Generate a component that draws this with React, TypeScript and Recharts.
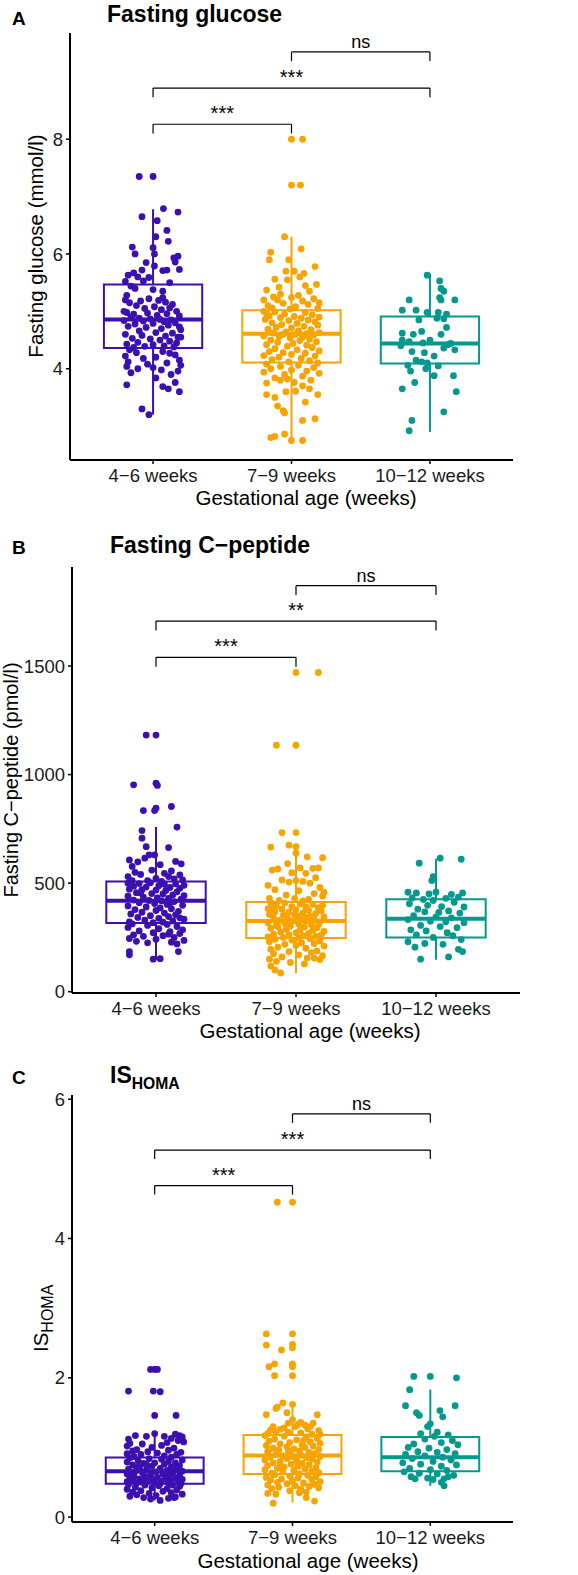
import React from 'react';
import { ComposedChart, Scatter, XAxis, YAxis, ReferenceArea, ReferenceLine } from 'recharts';

const FONT = '"Liberation Sans", Arial, Helvetica, sans-serif';

const groups = ['4−6 weeks', '7−9 weeks', '10−12 weeks'];
const colors = ['#3C0FB0', '#F7A400', '#04988F'];

type Pt = [number, number]; // [jitter, value]
type Box = [number, number, number, number, number]; // lo, q1, median, q3, hi
type Sig = { from: number; to: number; y: number; label: string };

// ---------- A: fasting glucose (mmol/l)
const glucose46: Pt[] = [
  [-0.1,7.35],[0.0,7.35],
  [0.075,6.79],[0.18,6.73],[-0.08,6.65],[0.03,6.58],[0.1,6.41],[0.11,6.22],[-0.15,6.12],[0.0,6.11],[-0.13,6.0],[0.01,6.0],[0.15,5.93],[0.18,5.96],[0.16,5.86],[0.19,5.73],[0.01,5.79],[0.1,5.72],[0.07,5.71],[-0.08,5.72],[-0.14,5.67],[-0.18,5.63],[-0.03,5.59],[-0.07,5.53],[-0.16,5.44],[-0.13,5.4],[0.0,5.38],[0.07,5.35],[-0.19,5.28],[0.07,5.24],[-0.11,5.6],[0.12,5.5],[-0.2,5.52],[0.02,6.3],[-0.05,5.85],
  [-0.2,5.2],[-0.17,5.15],[-0.09,5.18],[-0.03,5.22],[0.04,5.19],[0.09,5.16],[0.14,5.12],[-0.12,5.1],[-0.06,5.05],[0.01,5.08],[0.06,5.03],[0.12,5.06],[0.17,5.0],[-0.19,4.98],[-0.14,4.95],[-0.04,4.97],[0.03,4.93],[0.1,4.96],[0.19,4.92],[-0.16,4.9],[-0.1,4.88],[-0.02,4.87],[0.05,4.86],[0.13,4.85],[-0.21,4.84],[-0.07,4.83],[0.08,4.82],[0.16,4.8],[-0.13,4.78],[0.0,4.79],[0.11,4.76],[-0.18,4.74],[-0.05,4.72],[0.06,4.7],[0.2,4.68],[-0.1,4.66],[0.02,4.63],[0.14,4.62],[-0.2,4.6],[-0.08,4.58],[0.09,4.57],[0.18,4.55],[-0.15,4.53],[-0.02,4.52],[0.05,4.5],[0.12,4.48],[-0.11,4.46],[0.17,4.45],[-0.19,4.43],[0.0,4.42],[0.08,4.4],[-0.06,4.39],[0.15,4.38],[-0.14,4.37],[0.2,4.55],[0.19,4.73],[-0.21,5.0],
  [-0.17,4.33],[0.07,4.3],[-0.12,4.28],[0.12,4.27],[0.16,4.24],[-0.2,4.22],[0.02,4.2],[-0.07,4.18],[0.19,4.15],[-0.18,4.12],[0.1,4.1],[-0.04,4.08],[0.2,4.06],[-0.19,4.04],[0.0,4.02],[-0.11,4.0],[0.06,3.98],[0.18,3.96],[-0.16,3.93],[0.13,3.9],[0.02,3.84],[-0.19,3.72],[0.16,3.76],[0.07,3.69],[0.11,3.65],[0.19,3.6],[-0.08,3.3],[-0.03,3.2],
];
const glucose79: Pt[] = [
  [0.0,8.0],[0.08,8.0],[0.0,7.2],[0.065,7.2],
  [-0.05,6.3],[0.07,6.09],[-0.15,6.03],[-0.16,5.9],[-0.02,5.9],[0.17,5.78],[-0.04,5.7],[0.02,5.7],[0.09,5.66],[-0.12,5.56],[-0.03,5.55],[0.18,5.47],[0.1,5.45],[-0.18,5.37],[0.13,5.35],[-0.08,5.3],[0.05,5.28],[-0.13,5.25],[0.0,5.24],[0.16,5.22],[-0.2,5.2],[-0.1,5.2],[0.08,5.18],[0.2,5.15],[-0.06,5.14],[0.12,5.12],[-0.17,5.1],[0.03,5.08],[-0.14,5.06],[0.19,5.05],[-0.01,5.04],[0.06,5.6],[-0.09,5.42],
  [-0.2,5.0],[-0.12,4.99],[0.1,4.98],[-0.18,4.96],[-0.05,4.95],[0.15,4.94],[-0.16,4.92],[0.02,4.91],[0.2,4.9],[-0.08,4.89],[0.07,4.88],[-0.19,4.86],[0.12,4.85],[-0.02,4.84],[0.17,4.82],[-0.14,4.8],[0.04,4.79],[-0.07,4.77],[0.19,4.76],[0.09,4.74],[-0.11,4.72],[0.0,4.71],[-0.17,4.69],[0.14,4.68],[0.05,4.66],[-0.04,4.64],[0.2,4.63],[-0.13,4.62],[0.11,4.61],[-0.06,4.6],[0.03,4.6],[0.16,4.59],[-0.2,4.57],[-0.09,4.56],[0.08,4.55],[-0.01,4.54],[0.13,4.52],[-0.15,4.5],[0.06,4.49],[0.18,4.47],[-0.1,4.46],[0.01,4.44],[-0.18,4.42],[0.11,4.41],[-0.03,4.39],[0.15,4.37],[-0.12,4.35],[0.04,4.33],[0.2,4.31],[-0.16,4.3],[-0.06,4.28],[0.1,4.27],[0.0,4.25],[-0.2,4.23],[0.17,4.22],[-0.09,4.2],[0.07,4.18],[-0.14,4.16],[0.13,4.14],[-0.02,4.12],
  [0.19,4.1],[-0.18,4.08],[0.05,4.06],[-0.08,4.04],[0.16,4.02],[-0.15,4.0],[0.0,3.98],[0.11,3.96],[-0.2,3.94],[0.2,3.92],[-0.05,3.9],[0.08,3.87],[-0.12,3.84],[-0.03,3.82],[0.14,3.8],[-0.18,3.75],[-0.08,3.8],[0.02,3.76],[0.08,3.7],[-0.18,3.55],[-0.12,3.5],[-0.04,3.6],[0.03,3.61],[0.1,3.42],[0.19,3.55],[-0.06,3.27],[-0.05,3.23],[0.08,3.1],[0.17,3.13],[-0.15,2.8],[-0.12,2.82],[-0.05,2.86],[0.0,2.75],[0.08,2.75],[-0.1,3.35],[0.13,3.65],
];
const glucose1012: Pt[] = [
  [-0.02,5.63],[0.07,5.53],[0.08,5.4],[0.1,5.35],[0.07,5.24],[0.08,5.2],[0.18,5.2],[-0.15,5.2],[-0.2,5.02],[-0.1,5.02],[-0.02,4.98],[0.06,4.98],[0.12,4.95],[0.05,4.88],[0.1,4.87],[0.12,4.72],[-0.2,4.62],[-0.12,4.6],[-0.06,4.65],[-0.2,4.5],[-0.15,4.47],[0.0,4.5],[0.13,4.42],[-0.21,4.4],[-0.05,4.45],[0.15,4.44],[-0.13,4.3],[-0.04,4.28],[0.03,4.22],[0.18,4.33],[0.1,4.36],[-0.1,4.15],[-0.06,4.12],[-0.16,4.06],[-0.02,4.1],[0.06,4.05],[-0.14,3.96],[-0.03,4.0],[0.03,3.88],[0.17,3.88],[-0.11,3.76],[-0.2,3.65],[0.19,3.6],[0.1,3.25],[-0.13,3.1],[-0.15,2.92],[0.08,4.6],[-0.08,4.85],
];
const glucoseBox: Box[] = [[3.2, 4.36, 4.86, 5.47, 6.78], [2.75, 4.11, 4.61, 5.02, 6.3], [2.9, 4.09, 4.44, 4.91, 5.66]];
const glucoseSig: Sig[] = [
  { from: 1, to: 2, y: 8.26, label: '***' },
  { from: 1, to: 3, y: 8.89, label: '***' },
  { from: 2, to: 3, y: 9.52, label: 'ns' },
];

// ---------- B: fasting C-peptide (pmol/l)
const cpep46: Pt[] = [
  [-0.07,1182],[0.0,1182],[-0.16,953],[0.0,960],[0.01,950],[0.11,853],[-0.09,834],[0.0,845],[-0.01,834],
  [0.15,758],[-0.1,742],[-0.1,707],[-0.07,668],[0.09,664],[-0.19,607],[-0.17,577],[-0.05,630],[-0.01,630],[-0.08,615],[0.14,600],[0.18,589],[0.17,538],[-0.13,598],[0.03,585],[-0.03,560],[0.06,545],[-0.15,550],[0.11,556],[-0.2,530],[0.0,522],[0.09,530],[-0.11,540],[0.19,515],[-0.06,512],[0.04,508],[0.13,520],[-0.17,512],
  [-0.2,500],[-0.12,498],[-0.04,502],[0.06,495],[0.14,497],[0.2,490],[-0.16,486],[-0.07,482],[0.02,488],[0.1,480],[0.17,476],[-0.19,472],[-0.1,470],[0.0,468],[0.07,466],[0.15,460],[-0.14,456],[-0.03,452],[0.05,450],[0.12,446],[0.2,442],[-0.2,440],[-0.09,436],[0.01,432],[0.09,430],[0.18,426],[-0.16,422],[-0.05,420],[0.04,418],[0.13,415],[-0.12,410],[-0.01,406],[0.08,402],[0.19,398],[-0.2,395],[-0.07,390],[0.03,386],[0.11,382],[-0.15,378],[0.0,374],[0.16,370],[-0.1,366],[0.06,362],[-0.18,358],[0.14,354],[-0.04,350],[0.09,346],[-0.13,342],[0.02,338],[0.2,334],[-0.08,330],[0.12,326],[-0.19,322],[0.05,320],[-0.02,318],[0.17,340],[-0.11,455],[0.1,410],
  [-0.17,312],[0.08,310],[-0.06,305],[0.15,300],[-0.2,296],[0.02,290],[0.19,285],[-0.12,280],[0.1,276],[-0.02,272],[0.17,268],[-0.16,262],[0.05,258],[-0.09,255],[0.13,250],[-0.19,245],[0.0,242],[0.2,236],[0.11,228],[-0.06,225],[0.15,220],[0.16,185],[-0.19,185],[-0.19,170],[-0.02,150],[0.03,152],[0.09,265],[-0.14,232],
];
const cpep79: Pt[] = [
  [0.0,1470],[0.16,1470],[-0.14,1135],[0.0,1135],[-0.1,733],[0.0,733],[-0.18,666],[-0.05,675],[0.0,668],
  [0.08,621],[0.19,617],[0.0,638],[-0.13,565],[-0.06,590],[0.03,570],[0.12,568],[0.16,570],[-0.17,560],[-0.03,548],[0.07,545],[-0.1,515],[-0.05,505],[0.0,512],[0.05,508],[0.14,525],[-0.2,490],[0.1,500],[0.17,480],[-0.15,470],[0.02,465],[0.13,452],[-0.07,445],[0.19,440],[-0.19,430],[-0.01,428],[0.09,425],[-0.12,420],[0.05,418],[0.2,458],
  [-0.18,410],[-0.08,408],[0.03,405],[0.12,402],[0.19,398],[-0.14,395],[-0.03,392],[0.07,390],[0.16,386],[-0.2,383],[-0.1,380],[0.0,378],[0.09,375],[0.18,372],[-0.15,368],[-0.05,366],[0.05,363],[0.14,360],[-0.19,356],[-0.09,352],[0.01,350],[0.1,347],[0.2,344],[-0.16,340],[-0.06,337],[0.04,334],[0.13,332],[-0.12,328],[-0.02,326],[0.07,324],[0.17,322],[-0.2,318],[-0.08,315],[0.02,312],[0.11,308],[-0.14,305],[-0.04,302],[0.06,298],[0.15,295],[-0.18,292],[-0.07,288],[0.03,285],[0.12,282],[0.2,278],[-0.11,275],[0.0,272],[0.09,268],[-0.16,265],[-0.05,262],[0.05,258],[0.14,255],[-0.2,252],[-0.09,250],[0.02,248],[0.18,262],[-0.13,300],[0.08,340],[-0.01,355],[0.16,310],[-0.17,380],
  [0.1,245],[-0.15,242],[-0.03,238],[0.17,234],[-0.19,230],[0.04,226],[0.13,222],[-0.08,218],[0.0,214],[0.2,210],[-0.13,205],[0.07,200],[-0.18,195],[0.15,188],[-0.05,185],[0.11,180],[-0.16,175],[0.02,170],[0.19,166],[-0.1,160],[0.08,155],[-0.19,150],[0.17,148],[-0.14,140],[-0.04,135],[0.06,128],[-0.18,118],[-0.15,100],[-0.11,86],[0.13,155],
];
const cpep1012: Pt[] = [
  [-0.12,592],[0.03,615],[0.18,610],[-0.02,530],[-0.03,512],[-0.2,458],[-0.14,455],[-0.05,450],[0.0,458],[0.19,455],[0.11,448],[-0.17,432],[-0.09,425],[0.07,430],[0.16,436],[-0.02,420],[0.13,412],[-0.19,405],[-0.06,398],[0.04,392],[0.2,390],[-0.13,380],[0.09,372],[-0.08,368],[0.02,365],[0.17,362],[-0.16,350],[0.0,345],[0.11,340],[-0.2,332],[-0.04,325],[0.07,322],[0.2,318],[-0.11,305],[0.03,300],[0.15,295],[-0.18,285],[-0.07,280],[0.08,272],[-0.14,262],[0.12,258],[-0.02,250],[0.18,240],[-0.2,230],[-0.08,222],[0.05,218],[-0.15,205],[0.16,195],[0.19,185],[-0.11,150],[0.09,160],
];
const cpepBox: Box[] = [[147, 316, 419, 507, 758], [86, 247, 326, 413, 638], [147, 250, 336, 426, 612]];
const cpepSig: Sig[] = [
  { from: 1, to: 2, y: 1540, label: '***' },
  { from: 1, to: 3, y: 1707, label: '**' },
  { from: 2, to: 3, y: 1870, label: 'ns' },
];

// ---------- C: IS HOMA
const homa46: Pt[] = [
  [-0.03,2.12],[0.0,2.12],[0.02,2.12],[-0.19,1.81],[-0.01,1.81],[0.04,1.8],[0.0,1.46],[0.155,1.46],
  [0.0,1.2],[-0.14,1.17],[-0.06,1.16],[0.07,1.16],[0.15,1.19],[0.18,1.17],[0.2,1.15],[-0.19,1.12],[0.12,1.13],[0.17,1.1],[-0.18,1.06],[-0.09,1.05],[0.09,1.07],[0.21,1.08],[-0.2,1.02],[-0.02,1.0],[0.05,1.03],[0.14,0.99],[-0.13,0.97],[-0.16,0.95],[0.1,0.96],[-0.05,0.94],[0.19,0.93],[0.02,0.92],[-0.2,0.91],[-0.1,0.9],[0.16,0.9],[0.07,0.88],[-0.15,0.87],[0.12,0.86],
  [-0.18,0.85],[-0.04,0.84],[0.05,0.83],[0.2,0.82],[-0.12,0.81],[0.1,0.8],[-0.2,0.79],[0.0,0.78],[0.15,0.78],[-0.08,0.77],[0.07,0.76],[-0.16,0.75],[0.18,0.74],[-0.02,0.73],[0.12,0.72],[-0.11,0.71],[0.04,0.7],[-0.19,0.69],[0.16,0.69],[-0.06,0.68],[0.09,0.67],[0.2,0.66],[-0.14,0.66],[0.01,0.65],[-0.09,0.64],[0.13,0.63],[-0.2,0.62],[0.06,0.62],[-0.03,0.61],[0.18,0.6],[-0.15,0.59],[0.1,0.58],[-0.07,0.58],[0.02,0.57],[0.15,0.56],[-0.18,0.56],[-0.11,0.55],[0.08,0.55],[0.2,0.54],[-0.01,0.54],[-0.16,0.53],[0.12,0.53],[-0.05,0.52],[0.05,0.52],[0.17,0.51],[-0.2,0.51],[-0.09,0.5],[0.0,0.5],[0.1,0.49],[-0.13,0.49],[0.19,0.48],[0.04,0.48],[-0.17,0.6],[0.14,0.68],[-0.06,0.76],[0.08,0.64],[-0.12,0.72],
  [-0.19,0.47],[-0.07,0.46],[0.13,0.46],[0.03,0.45],[0.18,0.44],[-0.14,0.43],[-0.02,0.42],[0.09,0.41],[-0.2,0.4],[0.16,0.39],[-0.1,0.38],[0.06,0.37],[-0.16,0.36],[0.12,0.35],[-0.04,0.34],[0.2,0.33],[-0.13,0.32],[0.01,0.31],[-0.18,0.3],[0.15,0.29],[-0.08,0.28],[0.1,0.27],[-0.03,0.26],[0.04,0.24],[0.14,0.28],
];
const homa79: Pt[] = [
  [-0.11,4.52],[0.0,4.52],[-0.19,2.63],[0.0,2.63],[-0.19,2.47],[0.0,2.48],[0.0,2.43],[-0.08,2.4],[-0.17,2.16],[-0.13,2.2],[0.0,2.2],[0.0,2.16],[-0.13,2.03],[0.0,2.03],
  [-0.07,1.64],[-0.11,1.58],[-0.12,1.56],[-0.04,1.5],[0.0,1.62],[0.18,1.47],[-0.19,1.47],[0.0,1.4],[0.06,1.36],[0.13,1.3],[-0.03,1.35],[0.04,1.33],[0.11,1.27],[-0.16,1.25],[-0.12,1.22],[-0.03,1.22],[0.19,1.24],[0.06,1.21],[0.14,1.19],[-0.09,1.26],[0.09,1.32],[-0.18,1.2],[0.02,1.3],[0.15,1.35],[-0.06,1.28],[0.2,1.19],[-0.14,1.3],
  [-0.2,1.17],[-0.06,1.16],[0.1,1.15],[0.18,1.13],[-0.13,1.12],[0.03,1.11],[-0.17,1.09],[0.13,1.08],[-0.02,1.07],[0.2,1.06],[-0.09,1.05],[0.07,1.04],[-0.19,1.03],[0.15,1.02],[-0.04,1.01],[0.09,1.0],[-0.14,0.99],[0.01,0.98],[0.19,0.97],[-0.1,0.96],[0.05,0.95],[-0.18,0.94],[0.12,0.93],[-0.02,0.92],[0.16,0.91],[-0.12,0.9],[0.06,0.89],[-0.07,0.88],[0.2,0.87],[0.0,0.87],[-0.16,0.86],[0.1,0.85],[-0.04,0.84],[0.14,0.83],[-0.2,0.82],[0.03,0.81],[-0.09,0.8],[0.18,0.79],[-0.14,0.78],[0.07,0.77],[-0.01,0.76],[0.12,0.75],[-0.18,0.74],[0.04,0.73],[-0.06,0.72],[0.17,0.71],[-0.11,0.7],[0.09,0.69],[-0.2,0.68],[0.01,0.67],[0.14,0.66],[-0.07,0.65],[0.19,0.64],[-0.15,0.63],[0.05,0.62],[-0.03,0.95],[0.08,1.1],[-0.17,0.97],[0.15,0.88],[-0.09,0.73],
  [-0.13,0.61],[0.11,0.6],[-0.02,0.59],[0.17,0.58],[-0.19,0.57],[0.04,0.56],[-0.08,0.55],[0.14,0.54],[-0.16,0.53],[0.0,0.52],[0.2,0.51],[-0.11,0.5],[0.08,0.49],[-0.04,0.48],[0.16,0.47],[-0.18,0.46],[0.02,0.45],[0.12,0.44],[-0.1,0.43],[0.19,0.42],[-0.15,0.41],[0.06,0.4],[-0.02,0.38],[0.1,0.36],[-0.18,0.34],[-0.12,0.33],[0.05,0.35],[0.1,0.28],[0.16,0.23],[-0.14,0.2],
];
const homa1012: Pt[] = [
  [-0.12,2.02],[0.0,2.02],[0.19,2.0],[-0.15,1.83],[-0.18,1.6],[0.18,1.6],[-0.1,1.5],[-0.08,1.46],[0.07,1.53],[0.09,1.44],[0.0,1.34],[-0.02,1.3],[0.05,1.22],[-0.07,1.2],[0.13,1.18],[0.03,1.16],[-0.04,1.12],[0.16,1.1],[-0.12,1.05],[0.08,1.07],[0.2,1.04],[-0.16,1.0],[-0.01,0.99],[0.12,0.97],[-0.09,0.94],[0.05,0.93],[0.18,0.91],[-0.18,0.9],[-0.04,0.88],[0.09,0.86],[-0.13,0.84],[0.15,0.82],[0.02,0.8],[-0.2,0.78],[-0.07,0.76],[0.19,0.75],[0.08,0.73],[-0.15,0.7],[0.0,0.68],[0.12,0.67],[-0.19,0.65],[-0.08,0.63],[0.05,0.62],[0.17,0.6],[-0.14,0.58],[-0.02,0.56],[0.1,0.55],[-0.11,0.55],[0.08,0.5],[0.02,0.54],[0.13,0.58],[0.1,0.45],
];
const homaBox: Box[] = [[0.24, 0.48, 0.66, 0.857, 1.2], [0.21, 0.62, 0.885, 1.18, 1.66], [0.45, 0.66, 0.86, 1.15, 1.83]];
const homaSig: Sig[] = [
  { from: 1, to: 2, y: 4.76, label: '***' },
  { from: 1, to: 3, y: 5.27, label: '***' },
  { from: 2, to: 3, y: 5.79, label: 'ns' },
];

const HALF = 0.355;

type PanelProps = {
  height: number;
  margin: { top: number; right: number; bottom: number; left: number };
  yWidth: number;
  domain: [number, number];
  ticks: number[];
  points: Pt[][];
  boxes: Box[];
  sig: Sig[];
  tip: number;
};

function Panel({ height, margin, yWidth, domain, ticks, points, boxes, sig, tip }: PanelProps) {
  const axisText = { fill: '#1a1a1a', fontSize: 18.5, fontFamily: FONT };
  const boxEls: React.ReactNode[] = [];
  boxes.forEach(([lo, q1, med, q3, hi], i) => {
    const g = i + 1;
    const c = colors[i];
    boxEls.push(
      <ReferenceLine key={`wu${i}`} segment={[{ x: g, y: q3 }, { x: g, y: hi }]} stroke={c} strokeWidth={2} ifOverflow="visible" />,
      <ReferenceLine key={`wl${i}`} segment={[{ x: g, y: lo }, { x: g, y: q1 }]} stroke={c} strokeWidth={2} ifOverflow="visible" />,
      <ReferenceArea key={`b${i}`} x1={g - HALF} x2={g + HALF} y1={q1} y2={q3} fill="#fff" fillOpacity={0} stroke={c} strokeWidth={2} strokeOpacity={1} ifOverflow="visible" />,
      <ReferenceLine key={`m${i}`} segment={[{ x: g - HALF, y: med }, { x: g + HALF, y: med }]} stroke={c} strokeWidth={4} ifOverflow="visible" />,
    );
  });
  const sigEls: React.ReactNode[] = [];
  sig.forEach((s, i) => {
    sigEls.push(
      <ReferenceLine key={`s${i}`} segment={[{ x: s.from, y: s.y }, { x: s.to, y: s.y }]} stroke="#000" strokeWidth={1.2} ifOverflow="visible"
        label={{ value: s.label, position: 'top', offset: 4, fill: '#000', fontSize: s.label === 'ns' ? 18 : 20, fontFamily: FONT }} />,
      <ReferenceLine key={`sl${i}`} segment={[{ x: s.from, y: s.y }, { x: s.from, y: s.y - tip }]} stroke="#000" strokeWidth={1.2} ifOverflow="visible" />,
      <ReferenceLine key={`sr${i}`} segment={[{ x: s.to, y: s.y }, { x: s.to, y: s.y - tip }]} stroke="#000" strokeWidth={1.2} ifOverflow="visible" />,
    );
  });
  return (
    <ComposedChart width={578} height={height} margin={margin}>
      <XAxis
        type="number"
        dataKey="x"
        domain={[0.4, 3.6]}
        ticks={[1, 2, 3]}
        allowDataOverflow
        interval={0}
        tickFormatter={(v: number) => groups[Math.round(v) - 1]}
        axisLine={{ stroke: '#000', strokeWidth: 2 }}
        tickLine={{ stroke: '#000', strokeWidth: 1.5 }}
        tickSize={4}
        tickMargin={5}
        tick={axisText}
        height={30}
      />
      <YAxis
        type="number"
        dataKey="y"
        domain={domain}
        ticks={ticks}
        allowDataOverflow
        interval={0}
        width={yWidth}
        axisLine={{ stroke: '#000', strokeWidth: 2 }}
        tickLine={{ stroke: '#000', strokeWidth: 1.5 }}
        tickSize={4}
        tickMargin={3}
        tick={axisText}
      />
      {boxEls}
      {points.map((pts, i) => (
        <Scatter
          key={`p${i}`}
          data={pts.map(([o, v]) => ({ x: i + 1 + o, y: v }))}
          fill={colors[i]}
          isAnimationActive={false}
          shape={(p: any) => <circle cx={p.cx} cy={p.cy} r={3.4} fill={colors[i]} />}
        />
      ))}
      {sigEls}
    </ComposedChart>
  );
}

export default function App() {
  const t = { fontFamily: FONT, fill: '#000' };
  return (
    <div style={{ position: 'absolute', left: 0, top: 0, width: 578, height: 1575, background: '#fff' }}>
      <Panel height={520} margin={{ top: 33, right: 65, bottom: 30, left: 0 }} yWidth={70}
        domain={[2.41, 9.85]} ticks={[4, 6, 8]} points={[glucose46, glucose79, glucose1012]}
        boxes={glucoseBox} sig={glucoseSig} tip={0.16} />
      <Panel height={520} margin={{ top: 47, right: 58, bottom: 17, left: 0 }} yWidth={72}
        domain={[-6, 1956]} ticks={[0, 500, 1000, 1500]} points={[cpep46, cpep79, cpep1012]}
        boxes={cpepBox} sig={cpepSig} tip={43} />
      <Panel height={535} margin={{ top: 55, right: 65, bottom: 23, left: 0 }} yWidth={72}
        domain={[-0.07, 6.06]} ticks={[0, 2, 4, 6]} points={[homa46, homa79, homa1012]}
        boxes={homaBox} sig={homaSig} tip={0.13} />
      <svg width={578} height={1575} style={{ position: 'absolute', left: 0, top: 0, pointerEvents: 'none' }}>
        {/* A */}
        <text x={12} y={25} fontSize={19} fontWeight="bold" {...t}>A</text>
        <text x={107} y={22} fontSize={23} fontWeight="bold" {...t}>Fasting glucose</text>
        <text x={43} y={246} fontSize={20.5} textAnchor="middle" transform="rotate(-90 43 246)" {...t}>Fasting glucose (mmol/l)</text>
        <text x={306} y={505} fontSize={20.5} textAnchor="middle" {...t}>Gestational age (weeks)</text>
        {/* B */}
        <text x={12} y={554} fontSize={19} fontWeight="bold" {...t}>B</text>
        <text x={110} y={553} fontSize={23} fontWeight="bold" {...t}>Fasting C−peptide</text>
        <text x={18} y={780} fontSize={20} textAnchor="middle" transform="rotate(-90 18 780)" {...t}>Fasting C−peptide (pmol/l)</text>
        <text x={310} y={1038} fontSize={20.5} textAnchor="middle" {...t}>Gestational age (weeks)</text>
        {/* C */}
        <text x={12} y={1084} fontSize={19} fontWeight="bold" {...t}>C</text>
        <text x={110} y={1083} fontSize={23} fontWeight="bold" {...t}>IS<tspan fontSize={15.7} dy={6}>HOMA</tspan></text>
        <text x={48} y={1352} fontSize={20.5} transform="rotate(-90 48 1352)" {...t}>IS<tspan fontSize={16} dy={5}>HOMA</tspan></text>
        <text x={308} y={1568} fontSize={20.5} textAnchor="middle" {...t}>Gestational age (weeks)</text>
      </svg>
    </div>
  );
}
